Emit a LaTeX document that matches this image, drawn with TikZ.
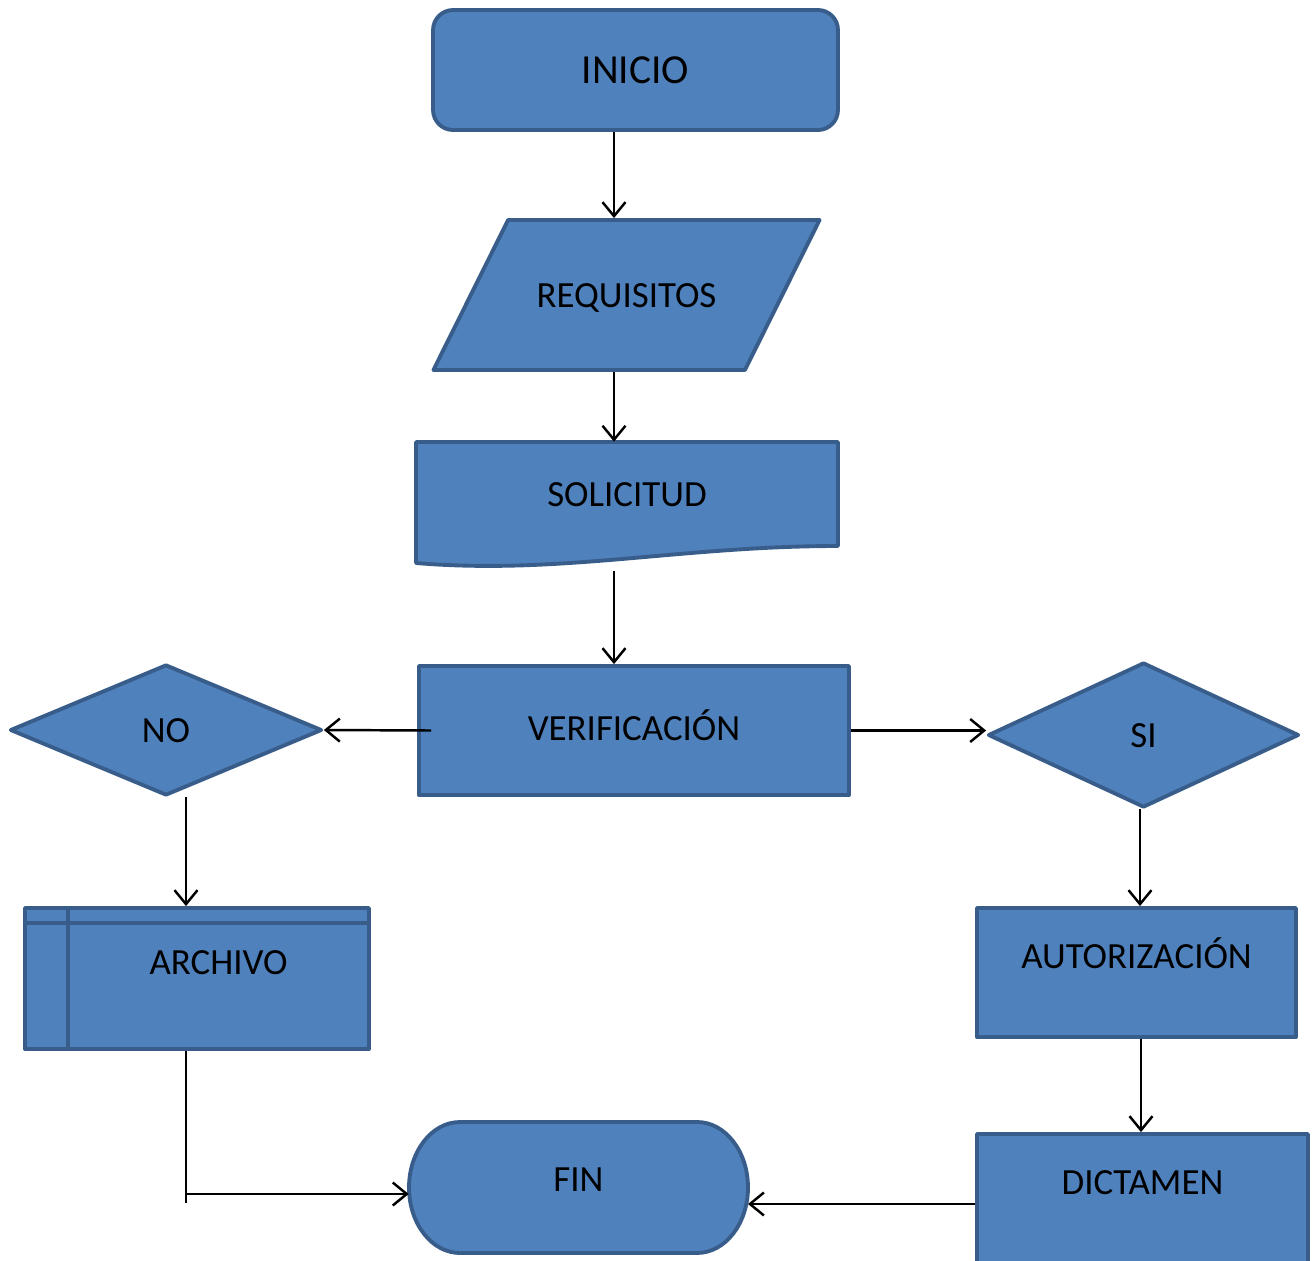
\documentclass[tikz,border=0pt]{standalone}
\usepackage{fontspec}
\setmainfont{Carlito}
\usepackage{tikz}
\usetikzlibrary{shapes.geometric, arrows.meta}
\definecolor{relleno}{HTML}{4F81BD}
\definecolor{borde}{HTML}{385D8A}

\begin{document}
\begin{tikzpicture}[x=0.02cm, y=-0.02cm]
	%defines
	\tikzstyle{texto} = [font=\fontsize{21}{25}\selectfont, text height=5mm, text depth=0.2mm]
	\tikzstyle{forma} = [fill=relleno, draw=borde, line width=2.2pt, line join=round]
	\tikzstyle{caja} = [rectangle, texto, forma]
	\tikzstyle{inicio} = [caja, rounded corners=0.4cm, minimum width=8.1cm, minimum height=2.4cm, font=\fontsize{23.5}{28}\selectfont, text height=5.5mm]
	\tikzstyle{datos} = [trapezium, texto, forma, trapezium left angle=32, trapezium right angle=148, trapezium stretches=true, minimum width=7.74cm, minimum height=3cm]
	\tikzstyle{decision} = [diamond, texto, forma, inner sep=0pt]
	\tikzstyle{abajo} = [text depth=6.8mm]
	\tikzstyle{linea} = [line width=1.4pt]
	\tikzstyle{arrow} = [linea, -{Straight Barb[length=2.8mm, width=4.6mm]}]
	\useasboundingbox (0,0) rectangle (1312,1261);
	\clip (0,0) rectangle (1312,1261);
	%shapes
	\path [forma] (416,442) -- (838,442) -- (838,546) .. controls (680,546) and (560,575) .. (416,563) -- cycle;
	\path [forma] (460,1122) -- (697,1122) arc[start angle=90, end angle=-90, x radius=1.02cm, y radius=1.31cm] -- (460,1253) arc[start angle=270, end angle=90, x radius=1.02cm, y radius=1.31cm] -- cycle;
	%chart
	\node (inicio) [inicio] at (635.5,70) {INICIO};
	\node (requisitos) [datos] at (626.5,295) {REQUISITOS};
	\node (solicitud) [rectangle, texto, minimum width=8.44cm, minimum height=2.08cm] at (627,494) {SOLICITUD};
	\node (verificacion) [caja, minimum width=8.6cm, minimum height=2.58cm, text depth=1.2mm] at (634,730.5) {VERIFICACIÓN};
	\node (no) [decision, minimum width=6.24cm, minimum height=2.62cm] at (166,730) {NO};
	\node (si) [decision, minimum width=6.22cm, minimum height=2.9cm] at (1143.5,735) {SI};
	\node (archivo) [caja, abajo, minimum width=6.88cm, minimum height=2.82cm] at (197,978.5) {\hspace*{0.86cm}ARCHIVO};
	\node (autorizacion) [caja, abajo, minimum width=6.38cm, minimum height=2.58cm] at (1136.5,972.5) {AUTORIZACIÓN};
	\node (fin) [rectangle, texto, text depth=3.6mm, minimum width=6.78cm, minimum height=2.62cm] at (578.5,1187.5) {FIN};
	\node (dictamen) [caja, abajo, minimum width=6.62cm, minimum height=2.58cm] at (1142.5,1198.5) {DICTAMEN};
	\draw [draw=borde, line width=2.2pt] ([yshift=-0.34cm]archivo.north west) -- ([yshift=-0.34cm]archivo.north east);
	\draw [draw=borde, line width=2.2pt] ([xshift=0.9cm]archivo.north west) -- ([xshift=0.9cm]archivo.south west);
	\coordinate (ejeC) at (614,0);
	\coordinate (ejeNo) at (186,0);
	\coordinate (ejeSi) at (1140,0);
	\coordinate (ejeDic) at (1141,0);
	\coordinate (salidaSol) at (614,571);
	\coordinate (codo) at (186,1194);
	\coordinate (entradaFin) at (748,1204);
	\draw [arrow] (inicio.south -| ejeC) -- (requisitos.north -| ejeC);
	\draw [arrow] (requisitos.south -| ejeC) -- (solicitud.north -| ejeC);
	\draw [arrow] (salidaSol) -- (verificacion.north -| ejeC);
	\draw [arrow] ([xshift=0.28cm]verificacion.west) -- (no.east);
	\draw [arrow] (verificacion.east) -- (verificacion.east -| si.west);
	\draw [arrow] (no.south -| ejeNo) -- (archivo.north -| ejeNo);
	\draw [arrow] (si.south -| ejeSi) -- (autorizacion.north -| ejeSi);
	\draw [arrow] (autorizacion.south -| ejeDic) -- (dictamen.north -| ejeDic);
	\draw [arrow] (archivo.south -| codo) -- (codo) -- (codo -| fin.west);
	\draw [linea] (codo) -- ++(0,9);
	\draw [arrow] (dictamen.west |- entradaFin) -- (entradaFin);
\end{tikzpicture}
\end{document}
